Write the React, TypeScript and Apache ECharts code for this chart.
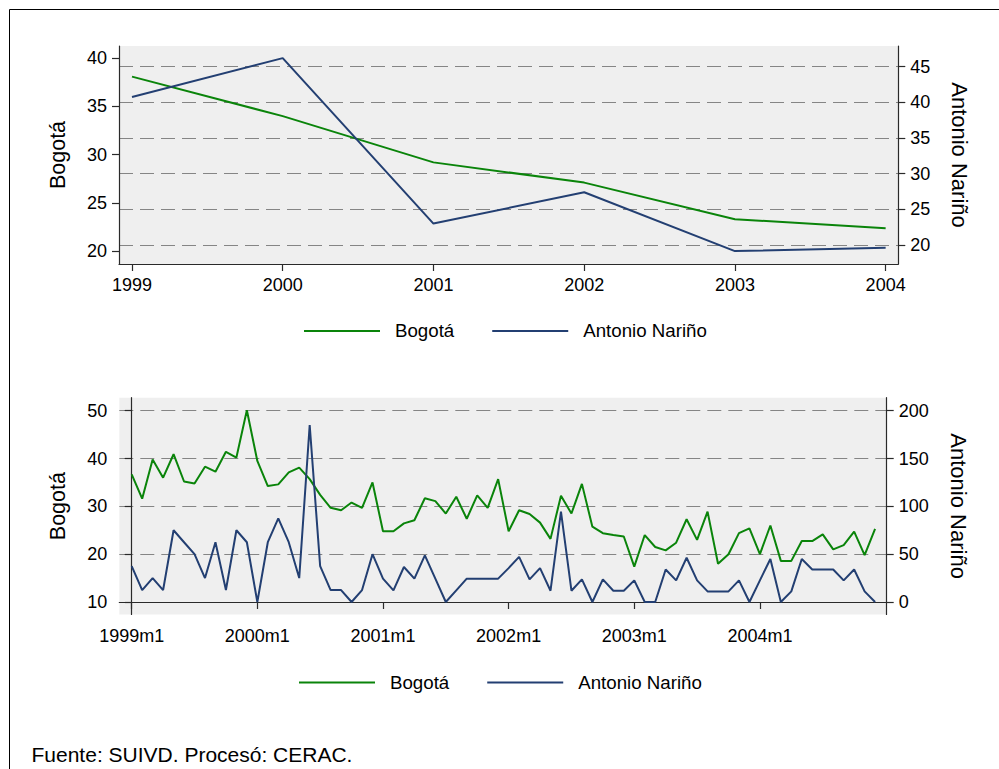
import React, { useEffect, useRef } from 'react';
import * as echarts from 'echarts';

// ---- Data ----
const years = [1999, 2000, 2001, 2002, 2003, 2004];
const bogotaAnual = [38.1, 34.0, 29.2, 27.1, 23.3, 22.35];
const narinoAnual = [40.75, 46.2, 23.0, 27.4, 19.15, 19.6];

// monthly index 0 = 1999m1 ... 71 = 2004m12
const bogotaMensual = [
  36.7, 31.6, 39.8, 36.0, 40.9, 35.2, 34.8, 38.3, 37.25, 41.4, 40.2, 50.1,
  39.5, 34.25, 34.6, 37.1, 38.1, 35.7, 32.4, 29.7, 29.2, 30.8, 29.7, 35.0,
  24.8, 24.8, 26.45, 27.1, 31.7, 31.1, 28.5, 32.0, 27.4, 32.3, 29.7, 35.7,
  24.8, 29.2, 28.4, 26.6, 23.2, 32.2, 28.5, 34.7, 25.75, 24.4, 24.0, 23.7,
  17.4, 24.0, 21.5, 20.8, 22.4, 27.3, 23.0, 28.9, 18.0, 20.0, 24.4, 25.4,
  20.0, 26.0, 18.6, 18.6, 22.75, 22.75, 24.15, 21.0, 21.9, 24.7, 19.8, 25.3,
];
const narinoMensual = [
  37.5, 12.5, 25, 12.5, 75, 62.5, 50, 25, 62.5, 12.5, 75, 62.5,
  0, 62.5, 87.5, 62.5, 25, 185, 37.5, 12.5, 12.5, 0, 12.5, 50,
  24.4, 12.2, 36.6, 24.4, 48.8, 24.4, 0, 12.2, 24.4, 24.4, 24.4, 24.4,
  35.4, 47.2, 23.6, 35.4, 11.8, 94.4, 11.8, 23.6, 0, 23.6, 11.8, 11.8,
  22.6, 0, 0, 34.0, 22.6, 46.3, 22.6, 11.1, 11.1, 11.1, 22.6, 0,
  22.6, 45, 0, 11.1, 45, 34, 34, 34, 22.6, 34, 11.1, 0,
];

const yearTicks = [1999, 2000, 2001, 2002, 2003, 2004];
const monthTicks = [0, 12, 24, 36, 48, 60];
const topLeftTicks = [20, 25, 30, 35, 40];
const topRightTicks = [20, 25, 30, 35, 40, 45];
const botLeftTicks = [10, 20, 30, 40, 50];
const botRightTicks = [0, 50, 100, 150, 200];

const seriesNames = ['Bogotá', 'Antonio Nariño'];
const footnote = 'Fuente: SUIVD. Procesó: CERAC.';

const FONT = '"Liberation Sans", Arial, Helvetica, sans-serif';
const GREEN = '#0a840a';
const BLUE = '#233f72';
const AXIS = '#2a2a2a';
const GRIDLINE = '#858585';

const axisLine = { show: true, lineStyle: { color: AXIS, width: 1.2 } };
const tick = (vals: number[]) => ({
  show: true,
  length: 7,
  inside: false,
  customValues: vals,
  lineStyle: { color: AXIS, width: 1.2 },
});
const label = (vals: number[], fmt?: (v: number) => string) => ({
  show: true,
  customValues: vals,
  margin: 12,
  fontSize: 18,
  color: '#000',
  fontFamily: FONT,
  formatter: fmt,
});
const dashed = {
  show: true,
  lineStyle: { color: GRIDLINE, width: 1.2, type: [14, 7] as any },
};

export default function App() {
  const ref = useRef<HTMLDivElement>(null);

  useEffect(() => {
    if (!ref.current) return;
    const chart = echarts.init(ref.current, undefined, { renderer: 'svg' });

    const legendBase = {
      orient: 'horizontal',
      padding: 0,
      icon: 'rect',
      itemWidth: 76,
      itemHeight: 2,
      itemGap: 38,
      selectedMode: false,
      data: seriesNames,
      textStyle: {
        fontSize: 18.7,
        color: '#000',
        fontFamily: FONT,
        padding: [0, 0, 0, 10],
      },
    };

    const option: any = {
      animation: false,
      backgroundColor: '#ffffff',
      textStyle: { fontFamily: FONT },
      grid: [
        {
          left: 119,
          right: 100.7,
          top: 46,
          bottom: 505,
          show: true,
          backgroundColor: '#efefef',
          borderWidth: 0,
          containLabel: false,
          outerBoundsMode: 'none',
        },
        {
          left: 119.3,
          right: 112.3,
          top: 397.7,
          bottom: 154.5,
          show: true,
          backgroundColor: '#efefef',
          borderWidth: 0,
          containLabel: false,
          outerBoundsMode: 'none',
        },
      ],
      legend: [
        { ...legendBase, left: 304, top: 321.4 },
        { ...legendBase, left: 299, top: 673 },
      ],
      xAxis: [
        {
          type: 'value',
          gridIndex: 0,
          min: 1998.9138,
          max: 2004.084,
          axisLine,
          axisTick: tick(yearTicks),
          axisLabel: label(yearTicks, (v: number) => String(v)),
          splitLine: { show: false },
        },
        {
          type: 'value',
          gridIndex: 1,
          min: -1.184,
          max: 72.11,
          axisLine,
          axisTick: tick(monthTicks),
          axisLabel: label(monthTicks, (v: number) => `${1999 + Math.round(v / 12)}m1`),
          splitLine: { show: false },
        },
      ],
      yAxis: [
        {
          type: 'value',
          gridIndex: 0,
          position: 'left',
          min: 18.65,
          max: 41.28,
          name: 'Bogotá',
          nameLocation: 'middle',
          nameGap: 50,
          nameTextStyle: { fontSize: 21.5, color: '#000', fontFamily: FONT },
          axisLine,
          axisTick: tick(topLeftTicks),
          axisLabel: label(topLeftTicks),
          splitLine: { show: false },
        },
        {
          type: 'value',
          gridIndex: 0,
          position: 'right',
          min: 17.336,
          max: 47.9,
          name: 'Antonio Nariño',
          nameLocation: 'middle',
          nameRotate: -90,
          nameGap: 50,
          nameTextStyle: { fontSize: 22, color: '#000', fontFamily: FONT },
          axisLine,
          axisTick: tick(topRightTicks),
          axisLabel: label(topRightTicks),
          splitLine: dashed,
        },
        {
          type: 'value',
          gridIndex: 1,
          position: 'left',
          min: 7.39,
          max: 52.72,
          name: 'Bogotá',
          nameLocation: 'middle',
          nameGap: 50,
          nameTextStyle: { fontSize: 21.5, color: '#000', fontFamily: FONT },
          axisLine,
          axisTick: tick(botLeftTicks),
          axisLabel: label(botLeftTicks),
          splitLine: dashed,
        },
        {
          type: 'value',
          gridIndex: 1,
          position: 'right',
          min: -13.07,
          max: 213.59,
          name: 'Antonio Nariño',
          nameLocation: 'middle',
          nameRotate: -90,
          nameGap: 61,
          nameTextStyle: { fontSize: 22, color: '#000', fontFamily: FONT },
          axisLine,
          axisTick: tick(botRightTicks),
          axisLabel: label(botRightTicks),
          splitLine: { show: false },
        },
      ],
      series: [
        {
          type: 'line',
          name: seriesNames[0],
          xAxisIndex: 0,
          yAxisIndex: 0,
          data: years.map((y, i) => [y, bogotaAnual[i]]),
          symbol: 'none',
          showSymbol: false,
          lineStyle: { color: GREEN, width: 2 },
          itemStyle: { color: GREEN },
          silent: true,
        },
        {
          type: 'line',
          name: seriesNames[1],
          xAxisIndex: 0,
          yAxisIndex: 1,
          data: years.map((y, i) => [y, narinoAnual[i]]),
          symbol: 'none',
          showSymbol: false,
          lineStyle: { color: BLUE, width: 2 },
          itemStyle: { color: BLUE },
          silent: true,
        },
        {
          type: 'line',
          name: seriesNames[0],
          xAxisIndex: 1,
          yAxisIndex: 2,
          data: bogotaMensual.map((v, i) => [i, v]),
          symbol: 'none',
          showSymbol: false,
          lineStyle: { color: GREEN, width: 2 },
          itemStyle: { color: GREEN },
          silent: true,
        },
        {
          type: 'line',
          name: seriesNames[1],
          xAxisIndex: 1,
          yAxisIndex: 3,
          data: narinoMensual.map((v, i) => [i, v]),
          symbol: 'none',
          showSymbol: false,
          lineStyle: { color: BLUE, width: 2 },
          itemStyle: { color: BLUE },
          silent: true,
        },
      ],
      graphic: [
        {
          type: 'rect',
          silent: true,
          shape: { x: 9.5, y: 9.5, width: 1200, height: 1000 },
          style: { fill: 'none', stroke: '#000', lineWidth: 1 },
        },
        {
          type: 'text',
          silent: true,
          x: 31.5,
          y: 754,
          style: {
            text: footnote,
            fontSize: 21,
            fontFamily: FONT,
            fill: '#000',
            verticalAlign: 'middle',
            align: 'left',
          },
        },
      ],
    };

    chart.setOption(option);
    return () => chart.dispose();
  }, []);

  return (
    <div
      ref={ref}
      style={{
        position: 'fixed',
        left: 0,
        top: 0,
        width: 999,
        height: 769,
        background: '#fff',
      }}
    />
  );
}
